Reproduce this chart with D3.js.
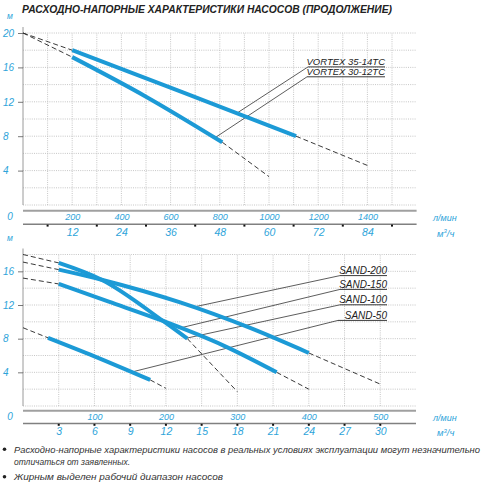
<!DOCTYPE html>
<html><head><meta charset="utf-8">
<script src="https://cdn.jsdelivr.net/npm/d3@7"></script>
<style>
body{margin:0;background:#fff}
text{font-family:"Liberation Sans",Arial,sans-serif;font-style:italic}
</style>
</head><body>
<svg id="c" width="500" height="490"></svg>
<script>
// ---------- DATA ----------
const titleText = "РАСХОДНО-НАПОРНЫЕ ХАРАКТЕРИСТИКИ НАСОСОВ (ПРОДОЛЖЕНИЕ)";
// top chart: flow l/min, head m
const topYTicks = [4, 8, 12, 16, 20];
const topLpmTicks = [200, 400, 600, 800, 1000, 1200, 1400];
const topM3hTicks = [12, 24, 36, 48, 60, 72, 84];
const topMinorDots = [100, 300, 500, 700, 900, 1100, 1300, 1500];
const vortexNames = ["VORTEX 35-14TC", "VORTEX 30-12TC"];
const v3514Dash1 = [[0, 20], [200, 18]];
const v3514Solid = [[200, 18], [650, 13.1], [1110, 8.0]];
const v3514Dash2 = [[1110, 8.0], [1400, 4.6]];
const v3012Dash1 = [[0, 20], [200, 17.2]];
const v3012Solid = [[200, 17.2], [500, 12.6], [810, 7.3]];
const v3012Dash2 = [[810, 7.3], [1000, 3.3]];
const vortexLeaderFlow = [869, 780];

// bottom chart
const botYTicks = [4, 8, 12, 16];
const botLpmTicks = [100, 200, 300, 400, 500];
const botM3hTicks = [3, 6, 9, 12, 15, 18, 21, 24, 27, 30];
const sandNames = ["SAND-200", "SAND-150", "SAND-100", "SAND-50"];
const s200Dash1 = [[0, 17.1], [50, 16.2]];
const s200Solid = [[50, 16.2], [110, 15.0], [220, 12.3], [317, 9.3], [400, 6.3]];
const s200Dash2 = [[400, 6.3], [500, 2.6]];
const s150Dash1 = [[0, 15.2], [50, 14.5]];
const s150Solid = [[50, 14.5], [120, 12.4], [196, 10.1], [280, 7.2], [355, 4.0]];
const s150Dash2 = [[355, 4.0], [400, 2.0]];
const s100Dash1 = [[0, 18.0], [50, 17.0]];
const s100Solid = [[50, 17.0], [110, 15.0], [196, 10.1], [230, 8.0]];
const s100Dash2 = [[230, 8.0], [300, 1.7]];
const s50Dash1 = [[0, 9.3], [35, 8.1]];
const s50Solid = [[35, 8.1], [100, 5.9], [178, 3.1]];
const s50Dash2 = [[178, 3.1], [200, 2.1]];
const sandLeaderFlow = [238, 220, 229, 152];

const notes = [
  "Расходно-напорные характеристики насосов в реальных условиях эксплуатации могут незначительно",
  "отличаться от заявленных.",
  "Жирным выделен рабочий диапазон насосов"
];

// ---------- DRAW ----------
const svg = d3.select("#c");
const BLUE = "#1c9ad6", LBLUE = "#2ea4da", GRID = "#b8b8b8";

svg.append("text").attr("x", 22).attr("y", 12.5)
  .attr("font-weight", "bold").attr("font-size", 11.5).attr("fill", "#222")
  .attr("textLength", 370).attr("lengthAdjust", "spacingAndGlyphs")
  .text(titleText);

function interp(pts, fx) {
  for (let i = 0; i < pts.length - 1; i++) {
    const a = pts[i], b = pts[i + 1];
    if (fx >= a[0] && fx <= b[0]) return a[1] + (b[1] - a[1]) * (fx - a[0]) / (b[0] - a[0]);
  }
  return pts[pts.length - 1][1];
}

function chart(cfg) {
  const g = svg.append("g");
  const x = d3.scaleLinear().domain([0, cfg.xMax]).range([23, cfg.xRight]);
  const y = d3.scaleLinear().domain([0, cfg.yMax]).range([cfg.yBottom, cfg.yTop]);
  const xm = d3.scaleLinear().domain([0, cfg.xMax * 0.06]).range([23, cfg.xRight]);

  // grid
  const gg = g.append("g").attr("stroke", GRID).attr("stroke-width", 0.8).attr("stroke-dasharray", "1,1.2");
  d3.range(0, cfg.yMax + 0.01, 2).forEach(v => {
    gg.append("line").attr("x1", x(0)).attr("x2", x(cfg.xMax)).attr("y1", y(v)).attr("y2", y(v));
  });
  d3.range(cfg.xStep, cfg.xMax - 0.01, cfg.xStep).forEach(v => {
    gg.append("line").attr("x1", x(v)).attr("x2", x(v)).attr("y1", y(0)).attr("y2", y(cfg.yMax));
  });

  // y axis
  g.append("line").attr("x1", 23).attr("x2", 23).attr("y1", y(cfg.yMax) - 6).attr("y2", y(0))
    .attr("stroke", "#9a9a9a").attr("stroke-width", 1);
  const ya = g.append("g").attr("transform", "translate(23,0)")
    .call(d3.axisLeft(y).tickValues(cfg.yTicks).tickSize(5).tickFormat(d3.format("d")));
  ya.select(".domain").remove();
  ya.selectAll("line").attr("stroke", "#555").attr("stroke-width", 0.8);
  ya.selectAll("text").attr("text-anchor", "start").attr("x", -20).attr("font-size", 10)
    .attr("fill", LBLUE).attr("font-family", null);
  g.append("text").attr("x", 10).attr("y", y(cfg.yMax) - 14).attr("text-anchor", "middle")
    .attr("font-size", 8.5).attr("fill", LBLUE).text("м");
  g.append("text").attr("x", 10).attr("y", cfg.axis1 + 9).attr("text-anchor", "middle")
    .attr("font-size", 10).attr("fill", LBLUE).text("0");

  // x axes
  g.append("line").attr("x1", 23).attr("x2", cfg.xRight).attr("y1", cfg.axis1).attr("y2", cfg.axis1)
    .attr("stroke", "#a0a0a0").attr("stroke-width", 2);
  g.append("line").attr("x1", 23).attr("x2", cfg.xRight).attr("y1", cfg.axis2).attr("y2", cfg.axis2)
    .attr("stroke", "#808080").attr("stroke-width", 1.4);
  const xa = g.append("g").attr("transform", `translate(0,${cfg.axis1})`)
    .call(d3.axisBottom(x).tickValues(cfg.lpmTicks).tickSize(0).tickPadding(3).tickFormat(d3.format("d")));
  xa.select(".domain").remove();
  xa.selectAll("text").attr("font-size", 9).attr("fill", LBLUE).attr("font-family", null);
  const xb = g.append("g").attr("transform", `translate(0,${cfg.axis2})`)
    .call(d3.axisBottom(xm).tickValues(cfg.m3hTicks).tickSize(0).tickPadding(4).tickFormat(d3.format("d")));
  xb.select(".domain").remove();
  xb.selectAll("text").attr("font-size", 10.5).attr("fill", LBLUE).attr("font-family", null);
  g.selectAll(null).data(cfg.dots).enter().append("rect")
    .attr("x", d => x(d) - 1).attr("y", cfg.axis2 + 0.3).attr("width", 2).attr("height", 2).attr("fill", "#111");
  g.append("text").attr("x", 433).attr("y", cfg.axis1 + 10).attr("font-size", 9).attr("fill", LBLUE).text("л/мин");
  const u = g.append("text").attr("x", 437).attr("y", cfg.axis2 + 12.5).attr("font-size", 9.5).attr("fill", LBLUE);
  u.append("tspan").text("м");
  u.append("tspan").attr("dy", -3.5).attr("font-size", 6).text("3");
  u.append("tspan").attr("dy", 3.5).text("/ч");

  const line = d3.line().x(d => x(d[0])).y(d => y(d[1])).curve(d3.curveMonotoneX);
  // dashed
  cfg.series.forEach(s => {
    [s.d1, s.d2].forEach(p => g.append("path").attr("d", line(p)).attr("fill", "none")
      .attr("stroke", "#222").attr("stroke-width", 0.9).attr("stroke-dasharray", "5,3"));
  });
  // labels + leaders
  cfg.series.forEach((s, i) => {
    const L = cfg.labels[i];
    g.append("text").attr("x", L.right).attr("y", L.base).attr("text-anchor", "end")
      .attr("font-size", L.fs).attr("fill", "#222").text(s.name);
    g.append("line").attr("x1", L.uStart).attr("x2", L.right).attr("y1", L.base + 1.6).attr("y2", L.base + 1.6)
      .attr("stroke", "#222").attr("stroke-width", 0.9);
    g.append("line").attr("x1", L.uStart).attr("y1", L.base + 1.6)
      .attr("x2", x(s.lf)).attr("y2", y(interp(s.solid, s.lf)))
      .attr("stroke", "#333").attr("stroke-width", 0.8);
  });
  // solid
  cfg.series.forEach(s => {
    g.append("path").attr("d", line(s.solid)).attr("fill", "none")
      .attr("stroke", BLUE).attr("stroke-width", 4);
  });
}

chart({
  xMax: 1600, xRight: 416.6, xStep: 100, yMax: 20, yTop: 33, yBottom: 205,
  yTicks: topYTicks, lpmTicks: topLpmTicks, m3hTicks: topM3hTicks, dots: topMinorDots,
  axis1: 210.7, axis2: 224.3,
  series: [
    {name: vortexNames[0], d1: v3514Dash1, solid: v3514Solid, d2: v3514Dash2, lf: vortexLeaderFlow[0]},
    {name: vortexNames[1], d1: v3012Dash1, solid: v3012Solid, d2: v3012Dash2, lf: vortexLeaderFlow[1]}
  ],
  labels: [
    {right: 385, base: 65.3, uStart: 308, fs: 9.5},
    {right: 385, base: 75.2, uStart: 307, fs: 9.5}
  ]
});

chart({
  xMax: 550, xRight: 416, xStep: 50, yMax: 18, yTop: 254.5, yBottom: 406,
  yTicks: botYTicks, lpmTicks: botLpmTicks, m3hTicks: botM3hTicks,
  dots: botM3hTicks.map(v => v / 0.06),
  axis1: 410.7, axis2: 423.5,
  series: [
    {name: sandNames[0], d1: s200Dash1, solid: s200Solid, d2: s200Dash2, lf: sandLeaderFlow[0]},
    {name: sandNames[1], d1: s150Dash1, solid: s150Solid, d2: s150Dash2, lf: sandLeaderFlow[1]},
    {name: sandNames[2], d1: s100Dash1, solid: s100Solid, d2: s100Dash2, lf: sandLeaderFlow[2]},
    {name: sandNames[3], d1: s50Dash1, solid: s50Solid, d2: s50Dash2, lf: sandLeaderFlow[3]}
  ],
  labels: [
    {right: 387, base: 274, uStart: 340, fs: 10},
    {right: 387, base: 287.8, uStart: 340, fs: 10},
    {right: 387, base: 303.2, uStart: 340, fs: 10},
    {right: 387, base: 318.8, uStart: 338, fs: 10}
  ]
});

// notes
const nb = [452.8, 465.2, 480.2];
const nw = [466, 116, 209];
notes.forEach((t, i) => {
  svg.append("text").attr("x", 14).attr("y", nb[i]).attr("font-size", 9.4).attr("fill", "#333")
    .attr("textLength", nw[i]).attr("lengthAdjust", "spacingAndGlyphs").text(t);
});
[449.3, 476.7].forEach(cy => svg.append("circle").attr("cx", 4.5).attr("cy", cy).attr("r", 1.8).attr("fill", "#222"));
</script>
</body></html>
